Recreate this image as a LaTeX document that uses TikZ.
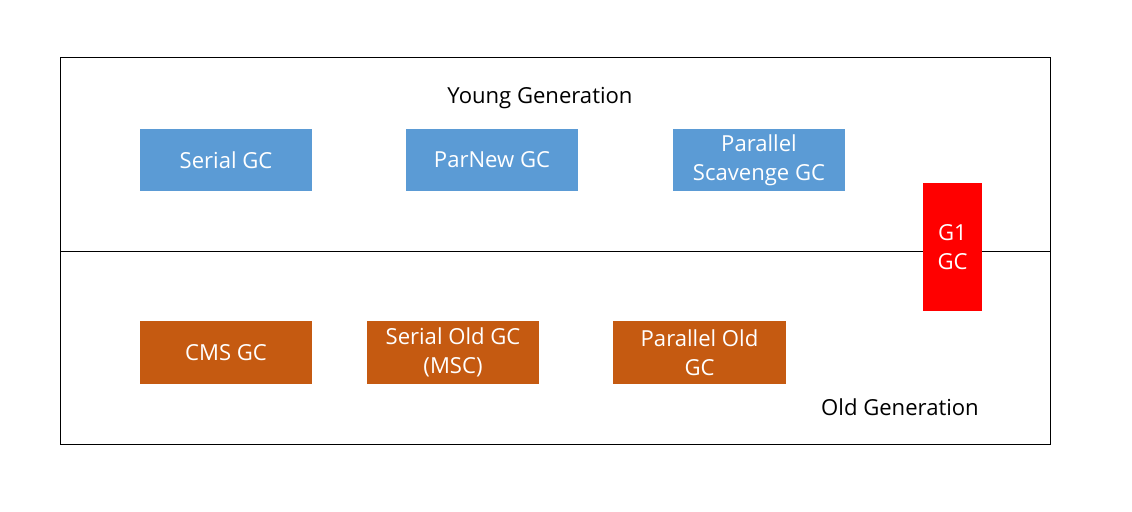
\documentclass[tikz,border=0pt]{standalone}
\usepackage{fontspec}
\setmainfont{Open Sans}
\definecolor{younggc}{HTML}{5B9BD5}
\definecolor{oldgc}{HTML}{C55A11}
\definecolor{gone}{HTML}{FF0000}
\tikzset{
  gcbox/.style={minimum width=4.3cm, minimum height=1.55cm, inner sep=0pt, text=white, align=center,
    font=\fontsize{15.7}{20.5}\selectfont},
  area/.style={font=\fontsize{15.7}{20.5}\selectfont}
}
\begin{document}
\begin{tikzpicture}[x=0.025cm, y=-0.025cm]
  \useasboundingbox (0,0) rectangle (1132,512);
  \draw[black] (60,57) rectangle (1050,444);
  \coordinate (midl) at (60,251);
  \coordinate (midr) at (1050,251);
  \draw[black] (midl) -- (midr);
  \node[area] (young) at (540,98) {Young Generation};
  \node[area] (old) at (900,407) {Old Generation};
  \node[gcbox,fill=younggc] (serial) at (226,160) {Serial GC};
  \node[gcbox,fill=younggc] (parnew) at (492,160) {ParNew GC};
  \node[gcbox,fill=younggc] (scavenge) at (759,160) {Parallel\\Scavenge GC};
  \node[gcbox,fill=oldgc] (cms) at (226,352.5) {CMS GC};
  \node[gcbox,fill=oldgc] (serialold) at (453,352.5) {Serial Old GC\\(MSC)};
  \node[gcbox,fill=oldgc] (parold) at (699.5,352.5) {Parallel Old\\GC};
  \node[gcbox,fill=gone,minimum width=1.475cm,minimum height=3.2cm] (gone) at (952.5,247) {G1\\GC};
\end{tikzpicture}
\end{document}
